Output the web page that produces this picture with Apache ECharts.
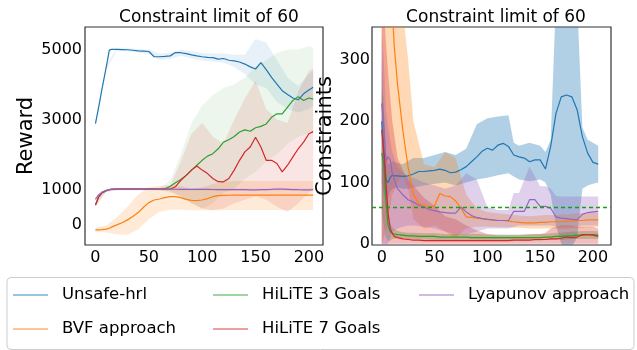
<!DOCTYPE html>
<html>
<head>
<meta charset="utf-8">
<script src="https://cdn.jsdelivr.net/npm/echarts@6/dist/echarts.min.js"></script>
<style>
  html, body { margin: 0; padding: 0; background: #fff; }
  #chart { width: 637px; height: 350px; }
</style>
</head>
<body>
<div id="chart"></div>
<script>
// ---- left panel: reward ----
const xLeft = [0, 3, 6, 10, 13, 15, 20, 25, 30, 35, 40, 45, 50, 55, 60, 65, 70, 75, 80, 85, 90, 95,
  100, 105, 110, 115, 120, 125, 130, 135, 140, 145, 150, 155, 160, 165, 170, 175, 180, 185, 190, 195, 200, 204];

const rewardUnsafe = [2880, 3350, 3850, 4480, 4980, 5000, 5000, 4995, 4990, 4975, 4960, 4950, 4940, 4790, 4790, 4800,
  4815, 4910, 4905, 4880, 4845, 4815, 4790, 4770, 4765, 4720, 4740, 4690, 4670, 4640, 4580, 4500, 4440, 4620,
  4420, 4200, 4010, 3820, 3710, 3610, 3560, 3730, 3840, 3915];
const rewardBvf = [-155, -155, -152, -137, -110, -80, -14, 45, 128, 223, 336, 488, 620, 696, 724, 762,
  790, 790, 762, 715, 687, 677, 696, 734, 790, 820, 828, 832, 835, 835, 836, 836, 837, 837,
  838, 838, 838, 838, 838, 838, 838, 838, 838, 838];
const rewardHilite3 = [554, 780, 900, 960, 990, 1000, 1005, 1005, 1005, 1005, 1005, 1005, 1005, 1005, 1005, 1010,
  1090, 1190, 1280, 1400, 1550, 1690, 1830, 1950, 2020, 2160, 2350, 2420, 2510, 2640, 2700, 2660, 2760, 2800,
  2870, 3060, 3160, 3160, 3350, 3540, 3650, 3540, 3610, 3580];
const rewardHilite7 = [554, 780, 900, 960, 990, 1000, 1005, 1005, 1005, 1005, 1005, 1005, 1005, 1005, 1005, 1005,
  1010, 1075, 1260, 1400, 1550, 1670, 1550, 1450, 1310, 1220, 1215, 1310, 1550, 1830, 2070, 2210, 2490, 2210,
  1830, 1830, 1740, 1500, 1690, 1930, 2160, 2350, 2590, 2650];
const rewardLyapunov = [715, 850, 920, 975, 995, 1005, 1008, 1008, 1008, 1008, 1008, 1007, 1006, 1005, 1005, 1004,
  1004, 1003, 1002, 1001, 1000, 1000, 1000, 998, 996, 995, 995, 993, 992, 991, 990, 988, 985, 990,
  995, 1002, 1010, 1005, 1000, 995, 990, 987, 985, 990];

const bandXLeft = [0, 10, 20, 30, 40, 50, 60, 70, 80, 90, 100, 110, 120, 130, 140, 150, 160, 170, 180, 190, 200, 204];
const rewardUnsafeLo = [2800, 4400, 4970, 4950, 4910, 4880, 4700, 4730, 4820, 4740, 4680, 4650, 4620, 4500, 4300, 4000, 3900, 3500, 3300, 3200, 3300, 3400];
const rewardUnsafeHi = [2950, 4550, 5030, 5030, 5010, 5000, 4880, 4900, 4990, 4950, 4900, 4880, 4880, 4850, 4850, 5300, 5200, 4700, 4200, 3950, 4300, 4400];
const rewardBvfLo = [-220, -230, -280, -300, -150, 150, 350, 420, 420, 400, 400, 410, 410, 410, 410, 410, 410, 410, 410, 410, 410, 410];
const rewardBvfHi = [-100, -40, 200, 500, 850, 1050, 1100, 1120, 1100, 1000, 1050, 1150, 1220, 1240, 1240, 1240, 1240, 1240, 1240, 1240, 1240, 1240];
const rewardHilite3Lo = [500, 930, 980, 980, 980, 980, 980, 900, 800, 600, 450, 600, 900, 1000, 1300, 1500, 1800, 2000, 2300, 2500, 2600, 2600];
const rewardHilite3Hi = [620, 990, 1030, 1030, 1030, 1030, 1030, 1250, 2000, 2900, 3400, 3700, 3900, 4000, 4200, 4500, 4700, 4900, 5000, 5000, 5100, 5050];
const rewardHilite7Lo = [500, 930, 980, 980, 980, 980, 980, 950, 800, 600, 450, 400, 450, 600, 700, 800, 700, 500, 350, 600, 900, 1000];
const rewardHilite7Hi = [620, 990, 1030, 1030, 1030, 1030, 1030, 1100, 1800, 2600, 2900, 2500, 2300, 3000, 3600, 4100, 3300, 3000, 2900, 3800, 4400, 4450];
const rewardLyapunovLo = [650, 940, 970, 970, 970, 965, 965, 965, 962, 960, 960, 955, 955, 952, 950, 945, 955, 970, 960, 950, 945, 950];
const rewardLyapunovHi = [780, 1010, 1045, 1045, 1045, 1045, 1045, 1043, 1042, 1040, 1040, 1037, 1035, 1032, 1030, 1025, 1035, 1050, 1040, 1030, 1025, 1030];

// ---- right panel: constraints ----
const xRight = [0, 2, 4, 6, 8, 10, 12, 15, 20, 25, 30, 35, 40, 45, 50, 55, 60, 65, 70, 75, 80, 85, 90, 95,
  100, 105, 110, 115, 120, 125, 130, 135, 140, 145, 150, 155, 160, 165, 170, 175, 180, 185, 190, 195, 200, 205];

const consUnsafe = [200, 150, 105, 100, 108, 112, 111, 111, 110, 111, 114, 118, 118, 119, 120, 122, 120, 116, 117, 121,
  126, 134, 142, 151, 156, 153, 161, 164, 159, 145, 142, 140, 134, 137, 137, 122, 159, 213, 240, 243,
  240, 219, 175, 148, 133, 130];
const consBvf = [700, 620, 540, 480, 430, 380, 320, 260, 185, 125, 80, 66, 63, 60, 62, 82, 78, 77, 70, 58,
  44, 43, 42, 41, 40, 39, 38, 38, 37, 36, 35, 34, 34, 34, 35, 35, 36, 36, 36, 37,
  37, 38, 38, 39, 39, 39];
const consHilite3 = [148, 130, 70, 30, 20, 17, 16, 15, 14, 13, 13, 12, 12, 12, 12, 11, 11, 11, 11, 11,
  11, 10, 10, 10, 10, 10, 10, 10, 10, 10, 10, 10, 10, 10, 10, 11, 11, 12, 12, 13,
  13, 14, 14, 15, 15, 14];
const consHilite7 = [186, 150, 100, 50, 25, 17, 12, 10, 8, 7, 6, 6, 5, 5, 5, 5, 5, 5, 5, 5,
  5, 5, 5, 5, 5, 5, 5, 5, 5, 6, 6, 6, 6, 7, 7, 7, 8, 8, 9, 11,
  10, 11, 15, 15, 14, 12];
const consLyapunov = [229, 190, 135, 142, 137, 115, 105, 90, 80, 72, 68, 63, 60, 56, 54, 52, 51, 50, 50, 60,
  52, 46, 43, 41, 40, 39, 38, 38, 38, 53, 53, 53, 72, 72, 61, 61, 58, 44, 42, 41,
  40, 39, 48, 51, 52, 53];
const constraintLimit = 60;

const bandXRight = [0, 2, 4, 6, 8, 10, 15, 20, 25, 30, 40, 50, 60, 70, 80, 90, 100, 110, 120, 125, 130,
  140, 150, 155, 160, 165, 170, 175, 180, 185, 190, 195, 200, 205];
const consUnsafeLo = [100, 80, 70, 75, 85, 90, 92, 90, 90, 92, 95, 98, 100, 95, 100, 105, 108, 112, 115, 110, 105,
  102, 105, 100, 80, 30, 0, -10, -5, 10, 90, 95, 98, 100];
const consUnsafeHi = [300, 220, 150, 130, 130, 135, 132, 130, 135, 140, 140, 145, 150, 145, 155, 195, 205, 208, 210, 165, 160,
  165, 160, 150, 170, 400, 600, 650, 600, 400, 190, 170, 165, 160];
const consBvfLo = [0, 10, 20, 40, 60, 80, 100, 110, 90, 40, 25, 30, 20, 10, 25, 28, 28, 27, 27, 26, 26,
  25, 25, 25, 25, 25, 24, 24, 25, 25, 26, 27, 27, 27];
const consBvfHi = [700, 700, 650, 600, 560, 520, 450, 380, 300, 200, 130, 125, 150, 140, 80, 58, 52, 50, 48, 47, 46,
  45, 46, 47, 47, 47, 48, 48, 49, 50, 50, 50, 51, 51];
const consHilite3Lo = [50, 30, 10, 5, 5, 8, 9, 9, 8, 8, 7, 6, 6, 6, 6, 5, 5, 5, 5, 5, 5,
  5, 5, 6, 6, 6, 6, 7, 8, 8, 8, 8, 8, 8];
const consHilite3Hi = [250, 220, 130, 60, 35, 26, 21, 19, 18, 18, 17, 17, 16, 16, 16, 16, 15, 15, 15, 15, 15,
  16, 16, 16, 17, 18, 18, 19, 20, 20, 21, 21, 21, 20];
const consHilite7Lo = [0, 0, 0, 0, 0, 0, 0, 0, 0, 0, 0, 0, 0, 0, 0, 0, 0, 0, 0, 0, 0,
  0, 0, 0, 0, 0, 0, 0, 0, 0, 0, 0, 0, 0];
const consHilite7Hi = [400, 380, 330, 280, 240, 200, 140, 120, 105, 95, 75, 62, 45, 40, 30, 22, 16, 14, 14, 14, 14,
  15, 16, 18, 25, 28, 30, 30, 30, 28, 28, 28, 28, 25];
const consLyapunovLo = [-20, -20, -10, 0, 10, 20, 25, 28, 30, 30, 28, 25, 20, 15, 15, 20, 25, 25, 25, 28, 30,
  30, 30, 30, 30, 28, 28, 28, 28, 28, 30, 30, 30, 30];
const consLyapunovHi = [350, 300, 220, 190, 170, 150, 125, 115, 110, 108, 100, 95, 90, 95, 115, 105, 60, 55, 55, 83, 83,
  126, 94, 94, 90, 78, 77, 77, 77, 77, 77, 77, 77, 77];

const names = ["Unsafe-hrl", "BVF approach", "HiLiTE 3 Goals", "HiLiTE 7 Goals", "Lyapunov approach"];
const colors = ["#1f77b4", "#ff7f0e", "#2ca02c", "#d62728", "#9467bd"];

const FONT = "'DejaVu Sans', sans-serif";

const zip = (xs, ys) => xs.map((x, i) => [x, ys[i]]);

function band(axis, xs, lo, hi, color, alpha) {
  return {
    type: "custom",
    xAxisIndex: axis,
    yAxisIndex: axis,
    clip: true,
    silent: true,
    z: 1,
    data: [[xs[0], lo[0]]],
    renderItem: (params, api) => {
      const top = xs.map((x, i) => api.coord([x, hi[i]]));
      const bottom = xs.map((x, i) => api.coord([x, lo[i]])).reverse();
      return {
        type: "polygon",
        shape: { points: top.concat(bottom) },
        style: { fill: color, opacity: alpha },
      };
    },
  };
}

function line(axis, name, xs, ys, color) {
  return {
    type: "line",
    name,
    xAxisIndex: axis,
    yAxisIndex: axis,
    data: zip(xs, ys),
    showSymbol: false,
    symbol: "none",
    z: 3,
    lineStyle: { color, width: 1.2 },
    itemStyle: { color },
  };
}

const leftLines = [rewardUnsafe, rewardBvf, rewardHilite3, rewardHilite7, rewardLyapunov];
const leftLo = [rewardUnsafeLo, rewardBvfLo, rewardHilite3Lo, rewardHilite7Lo, rewardLyapunovLo];
const leftHi = [rewardUnsafeHi, rewardBvfHi, rewardHilite3Hi, rewardHilite7Hi, rewardLyapunovHi];
const leftAlpha = [0.1, 0.16, 0.09, 0.12, 0.1];

const rightLines = [consUnsafe, consBvf, consHilite3, consHilite7, consLyapunov];
const rightLo = [consUnsafeLo, consBvfLo, consHilite3Lo, consHilite7Lo, consLyapunovLo];
const rightHi = [consUnsafeHi, consBvfHi, consHilite3Hi, consHilite7Hi, consLyapunovHi];
const rightAlpha = [0.35, 0.3, 0.3, 0.3, 0.3];

const series = [];
names.forEach((n, i) => {
  series.push(band(0, bandXLeft, leftLo[i], leftHi[i], colors[i], leftAlpha[i]));
  series.push(band(1, bandXRight, rightLo[i], rightHi[i], colors[i], rightAlpha[i]));
});
names.forEach((n, i) => {
  series.push(line(0, n, xLeft, leftLines[i], colors[i]));
  const s = line(1, n, xRight, rightLines[i], colors[i]);
  if (i === 2) {
    s.markLine = {
      silent: true,
      symbol: "none",
      z: 5,
      label: { show: false },
      lineStyle: { color: "#15a015", type: [4, 3], width: 1.3, opacity: 1 },
      emphasis: { disabled: true },
      data: [{ yAxis: constraintLimit }],
    };
  }
  series.push(s);
});

const tickLabel = { color: "#000", fontFamily: FONT, fontSize: 16, formatter: (v) => String(v) };

const legendCommon = {
  orient: "vertical",
  top: 283,
  padding: 0,
  itemWidth: 35,
  itemHeight: 14,
  itemGap: 10,
  selectedMode: false,
  icon: "path://M0,0H35V1.5H0Z",
  itemStyle: { opacity: 0.6 },
  textStyle: { color: "#000", fontFamily: FONT, fontSize: 16.5, lineHeight: 24, padding: [0, 0, 0, 9] },
};

const titleStyle = { color: "#000", fontFamily: FONT, fontSize: 17, fontWeight: "normal" };

const chart = echarts.init(document.getElementById("chart"), null, { renderer: "canvas" });
chart.setOption({
  animation: false,
  backgroundColor: "#fff",
  title: [
    { text: "Constraint limit of 60", left: 204, top: 4, textAlign: "center", textStyle: titleStyle },
    { text: "Constraint limit of 60", left: 491, top: 4, textAlign: "center", textStyle: titleStyle },
  ],
  grid: [
    { left: 85, top: 27, width: 238, height: 218, show: true, borderColor: "#333", borderWidth: 1.2 },
    { left: 372, top: 27, width: 239, height: 218, show: true, borderColor: "#333", borderWidth: 1.2 },
  ],
  xAxis: [
    { type: "value", gridIndex: 0, min: -9.8, max: 213.2,
      axisLine: { show: false }, axisTick: { show: false }, splitLine: { show: false },
      axisLabel: { ...tickLabel, margin: 5, customValues: [0, 50, 100, 150, 200] } },
    { type: "value", gridIndex: 1, min: -9.2, max: 217.1,
      axisLine: { show: false }, axisTick: { show: false }, splitLine: { show: false },
      axisLabel: { ...tickLabel, margin: 5, customValues: [0, 50, 100, 150, 200] } },
  ],
  yAxis: [
    { type: "value", gridIndex: 0, min: -590, max: 5640,
      name: "Reward", nameLocation: "middle", nameGap: 40,
      nameTextStyle: { color: "#000", fontFamily: FONT, fontSize: 21 },
      axisLine: { show: false }, axisTick: { show: false }, splitLine: { show: false },
      axisLabel: { ...tickLabel, margin: 3, customValues: [0, 1000, 3000, 5000] } },
    { type: "value", gridIndex: 1, min: -2, max: 354,
      name: "Constraints", nameLocation: "middle", nameGap: 29,
      nameTextStyle: { color: "#000", fontFamily: FONT, fontSize: 21 },
      axisLine: { show: false }, axisTick: { show: false }, splitLine: { show: false },
      axisLabel: { ...tickLabel, margin: 2, customValues: [0, 100, 200, 300] } },
  ],
  legend: [
    { ...legendCommon, left: 13, data: ["Unsafe-hrl", "BVF approach"] },
    { ...legendCommon, left: 213, data: ["HiLiTE 3 Goals", "HiLiTE 7 Goals"] },
    { ...legendCommon, left: 419, data: ["Lyapunov approach"] },
  ],
  graphic: [
    { type: "rect", left: 6.5, top: 277, silent: true, z: -1,
      shape: { width: 627, height: 72, r: 4 },
      style: { fill: "#fff", stroke: "#cccccc", lineWidth: 1 } },
  ],
  series,
});
</script>
</body>
</html>
